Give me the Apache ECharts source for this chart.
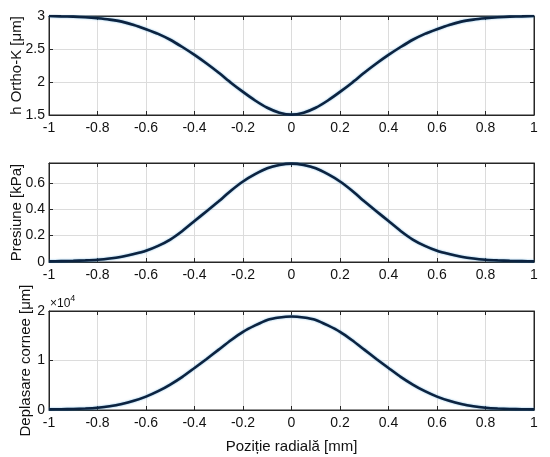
<!DOCTYPE html>
<html>
<head>
<meta charset="utf-8">
<script src="https://cdn.jsdelivr.net/npm/echarts@6/dist/echarts.min.js"></script>
<style>
html,body{margin:0;padding:0;background:#fff;}
#c{width:550px;height:457px;}
</style>
</head>
<body>
<div id="c"></div>
<script>
const xs = [-1,-0.95,-0.9,-0.85,-0.8,-0.75,-0.7,-0.65,-0.6,-0.55,-0.5,-0.45,-0.4,-0.35,-0.3,-0.25,-0.2,-0.15,-0.1,-0.05,0,
  0.05,0.1,0.15,0.2,0.25,0.3,0.35,0.4,0.45,0.5,0.55,0.6,0.65,0.7,0.75,0.8,0.85,0.9,0.95,1];
const hOrtho = [3.00,2.995,2.99,2.98,2.965,2.945,2.915,2.865,2.80,2.73,2.64,2.53,2.41,2.28,2.14,1.99,1.85,1.72,1.61,1.535,1.505,
  1.535,1.61,1.72,1.85,1.99,2.14,2.28,2.41,2.53,2.64,2.73,2.80,2.865,2.915,2.945,2.965,2.98,2.99,2.995,3.00];
const presiune = [0.005,0.007,0.009,0.012,0.017,0.026,0.04,0.06,0.085,0.122,0.17,0.235,0.31,0.385,0.46,0.54,0.61,0.665,0.71,0.735,0.745,
  0.735,0.71,0.665,0.61,0.54,0.46,0.385,0.31,0.235,0.17,0.122,0.085,0.06,0.04,0.026,0.017,0.012,0.009,0.007,0.005];
const deplasare = [130,160,200,300,470,750,1200,1850,2700,3800,5150,6700,8500,10300,12200,14100,15800,17100,18200,18700,18900,
  18700,18200,17100,15800,14100,12200,10300,8500,6700,5150,3800,2700,1850,1200,750,470,300,200,160,130];
const xTicks = ['-1','-0.8','-0.6','-0.4','-0.2','0','0.2','0.4','0.6','0.8','1'];
const yTitles = ['h Ortho-K [\u03bcm]','Presiune [kPa]','Deplasare cornee [\u03bcm]'];
const xTitle = 'Poziție radială [mm]';

const FONT = 'Liberation Sans, Arial, sans-serif';
const TXT = '#111';
const tops = [16, 163, 311];
const H = 99;
const yCfg = [
  {min:1.5, max:3, interval:0.5, fmt: v => String(v), gap:25},
  {min:0, max:0.75, interval:0.2, fmt: v => String(Math.round(v*10)/10), gap:25},
  {min:0, max:20000, interval:10000, fmt: v => String(Math.round(v/10000)), gap:16}
];
const datas = [hOrtho, presiune, deplasare];

const lineAx = {show:true, onZero:false, lineStyle:{color:'#262626'}};
const tickAx = {show:true, inside:true, length:4, lineStyle:{color:'#262626'}};
const grid = [], xAxis = [], yAxis = [], series = [];
for (let i = 0; i < 3; i++) {
  grid.push({left:49, right:16, top:tops[i], height:H, show:true, borderColor:'#262626', borderWidth:1,
    backgroundColor:'#fff', containLabel:false, outerBoundsMode:'none'});
  xAxis.push({
    type:'value', gridIndex:i, min:-1, max:1, interval:0.2,
    axisLine:lineAx, axisTick:tickAx,
    axisLabel:{color:TXT, fontSize:14, fontFamily:FONT, margin:6,
      formatter: v => xTicks[Math.round((v+1)/0.2)]},
    splitLine:{show:true, lineStyle:{color:'#dcdcdc', width:1}},
    name: i === 2 ? xTitle : '', nameLocation:'middle', nameGap:29, nameMoveOverlap:false,
    nameTextStyle:{color:TXT, fontSize:15, fontFamily:FONT}
  });
  xAxis.push({
    type:'value', gridIndex:i, min:-1, max:1, interval:0.2, position:'top',
    axisLine:lineAx, axisTick:tickAx,
    axisLabel:{show:false}, splitLine:{show:false}
  });
  const c = yCfg[i];
  yAxis.push({
    type:'value', gridIndex:i, min:c.min, max:c.max, interval:c.interval,
    axisLine:lineAx, axisTick:tickAx,
    axisLabel:{color:TXT, fontSize:14, fontFamily:FONT, margin:4, formatter:c.fmt, showMaxLabel: i !== 1},
    splitLine:{show:true, lineStyle:{color:'#dcdcdc', width:1}},
    name: yTitles[i], nameLocation:'middle', nameGap:c.gap, nameRotate:90, nameMoveOverlap:false,
    nameTextStyle:{color:TXT, fontSize:15, fontFamily:FONT}
  });
  yAxis.push({
    type:'value', gridIndex:i, min:c.min, max:c.max, interval:c.interval, position:'right',
    axisLine:lineAx, axisTick:tickAx,
    axisLabel:{show:false}, splitLine:{show:false}
  });
  series.push({
    type:'line', xAxisIndex:2*i, yAxisIndex:2*i, showSymbol:false, smooth:0.15,
    data: xs.map((x, k) => [x, datas[i][k]]),
    lineStyle:{color:'#0c2340', width:2.6, shadowColor:'rgba(60,150,210,0.7)', shadowBlur:2},
    z:5
  });
}

const chart = echarts.init(document.getElementById('c'), null, {renderer:'canvas'});
chart.setOption({
  animation:false,
  backgroundColor:'#fff',
  grid, xAxis, yAxis, series,
  graphic:[{
    type:'text', left:50, top:294,
    style:{
      text:'{a|\u00d710}{b|4}',
      rich:{
        a:{fontSize:12, fontFamily:FONT, fill:TXT, padding:[4,0,0,0]},
        b:{fontSize:9, fontFamily:FONT, fill:TXT, verticalAlign:'top'}
      }
    }
  }]
});
</script>
</body>
</html>
